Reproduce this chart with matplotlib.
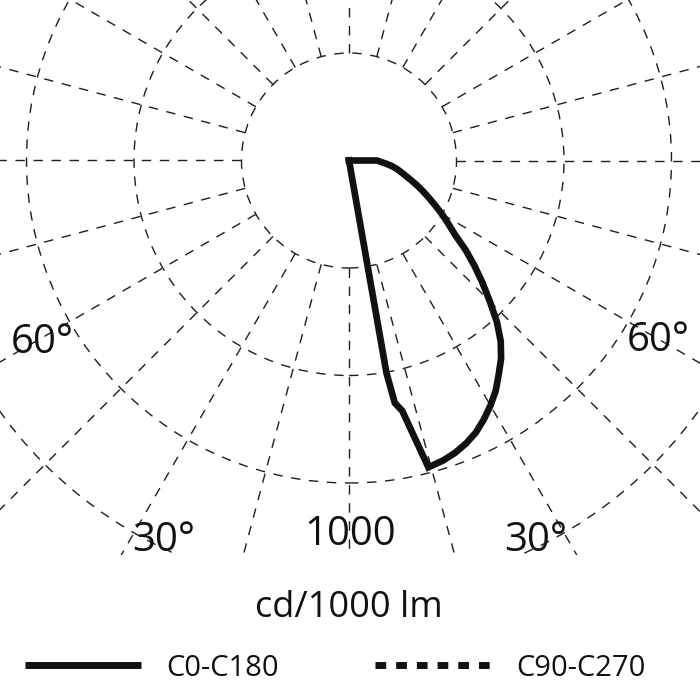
import matplotlib
matplotlib.use("Agg")
import matplotlib.pyplot as plt
import numpy as np
from matplotlib.lines import Line2D
from matplotlib.patches import Circle, Rectangle

plt.rcParams['font.family'] = ['Open Sans', 'DejaVu Sans']
plt.rcParams['lines.scale_dashes'] = False

# ---- data (cd/1000 lm) ----
gamma_c0 = [0, 5, 10, 10.7, 12, 14.5, 17.5, 20, 22.5, 25, 27.5, 30, 32.5, 35, 37.5,
            40, 42.5, 45, 47.5, 50, 52.5, 55, 57.5, 60, 62.5, 65, 67.5, 70, 72.5,
            75, 77.5, 80, 82.5, 85, 87.5, 90, 95, 180]
intensity_c0 = [0, 0, 502, 574, 595, 737, 731, 723, 712, 698, 679, 658, 635, 607, 581,
                549, 509, 463, 421, 381, 342, 301, 274, 250, 226, 205, 186, 168, 151,
                136, 124, 113, 101, 87, 74, 65, 0, 0]
gamma_c180 = [0, 90, 180]
intensity_c180 = [0, 0, 0]
gamma_c90 = [0, 90, 180]
intensity_c90 = [0, 0, 0]
gamma_c270 = [0, 90, 180]
intensity_c270 = [0, 0, 0]

ring_values = [250, 500, 750, 1000]
ring_label = "1000"
spoke_step = 15
angle_labels = ["60°", "30°", "30°", "60°"]
unit_label = "cd/1000 lm"
legend_labels = ["C0-C180", "C90-C270"]

# ---- layout ----
W = H = 700
cx, cy = 349.0, 160.5          # pole position in pixels
s = 107.5 / ring_values[0]     # pixels per cd/klm

fig = plt.figure(figsize=(7, 7), dpi=100)
ax = fig.add_axes([0, 0, 1, 1])
ax.set_xlim(-cx / s, (W - cx) / s)
ax.set_ylim(-(H - cy) / s, cy / s)
ax.axis('off')

clip_bottom = -(555 - cy) / s
clip = Rectangle((-5000, clip_bottom), 10000, 10000, transform=ax.transData)

grid_col = '#1e1e1e'
dash = (0, (6.8, 6.2))
for rv in ring_values:
    c = Circle((0, 0), rv, fill=False, ec=grid_col, lw=1.0, ls=dash, zorder=1)
    ax.add_patch(c)
    c.set_clip_path(clip)

r_in, r_out = ring_values[0], 4000
for a in np.arange(0, 360, spoke_step):
    t = np.deg2rad(a)
    ln, = ax.plot([r_in * np.sin(t), r_out * np.sin(t)],
                  [-r_in * np.cos(t), -r_out * np.cos(t)],
                  color=grid_col, lw=1.0, ls=dash, zorder=1)
    ln.set_clip_path(clip)

def polar_xy(g, v, side):
    g = np.deg2rad(np.asarray(g, float))
    v = np.asarray(v, float)
    return side * v * np.sin(g), -v * np.cos(g)

line_col = '#111111'
x0, y0 = polar_xy(gamma_c0, intensity_c0, 1)
x1, y1 = polar_xy(gamma_c180, intensity_c180, -1)
ax.plot(np.concatenate([x1[::-1], x0]), np.concatenate([y1[::-1], y0]),
        color=line_col, lw=4.8, solid_joinstyle='miter', zorder=5)
x2, y2 = polar_xy(gamma_c90, intensity_c90, 1)
x3, y3 = polar_xy(gamma_c270, intensity_c270, -1)
ax.plot(np.concatenate([x3[::-1], x2]), np.concatenate([y3[::-1], y2]),
        color=line_col, lw=5.0, ls=(0, (7.7, 7.2)), zorder=4)

# ---- texts ----
def ftext(px, py, txt, size, **kw):
    fig.text(px / W, 1 - py / H, txt, fontsize=size, ha='center', va='baseline',
             color='#111111', **kw)

ftext(42, 353, angle_labels[3], 29)
ftext(658, 351, angle_labels[0], 29)
ftext(164, 551, angle_labels[2], 29)
ftext(536, 551, angle_labels[1], 29)
ftext(350, 545, ring_label, 29)
ftext(349, 617, unit_label, 26)

handles = [Line2D([], [], color=line_col, lw=5.0, solid_capstyle='butt'),
           Line2D([], [], color=line_col, lw=5.0, ls=(0, (7.7, 7.2)), dash_capstyle='butt')]
leg = fig.legend(handles, legend_labels, loc='center left',
                 bbox_to_anchor=(24.5 / W, 1 - 668 / H), ncol=2, frameon=False,
                 fontsize=21, handlelength=4.0, handletextpad=0.85,
                 columnspacing=3.3, borderpad=0, borderaxespad=0)
for t in leg.get_texts():
    t.set_color('#111111')

fig.savefig('out.png', dpi=100)
